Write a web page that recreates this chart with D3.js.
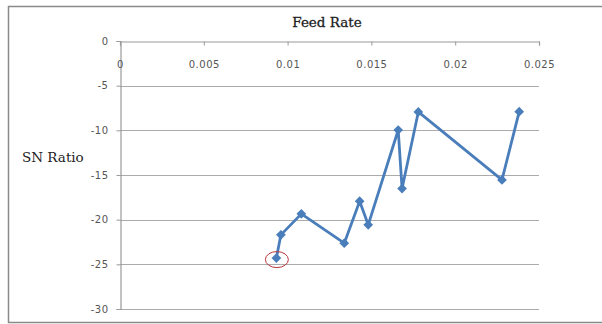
<!DOCTYPE html>
<html>
<head>
<meta charset="utf-8">
<script src="https://cdn.jsdelivr.net/npm/d3@7"></script>
<style>
  html, body { margin: 0; padding: 0; background: #fff; }
  svg { display: block; }
</style>
</head>
<body>
<svg id="chart" width="602" height="324"></svg>
<script>
// Feed rate vs. SN ratio
const feedRate = [0.00933, 0.0096, 0.01082, 0.01338, 0.0143, 0.01481, 0.0166, 0.01683, 0.0178, 0.02279, 0.02382];
const snRatio  = [-24.3, -21.7, -19.35, -22.63, -17.93, -20.58, -9.96, -16.52, -7.94, -15.55, -7.91];
const xTicks = [0, 0.005, 0.01, 0.015, 0.02, 0.025];
const xTickLabels = ["0", "0.005", "0.01", "0.015", "0.02", "0.025"];
const yTicks = [0, -5, -10, -15, -20, -25, -30];
const yTickLabels = ["0", "-5", "-10", "-15", "-20", "-25", "-30"];
const highlightIndex = 0;

const svg = d3.select("#chart");

// outer frame
svg.append("rect")
  .attr("x", 8.5).attr("y", 6.5)
  .attr("width", 620).attr("height", 316)
  .attr("fill", "#fff")
  .attr("stroke", "#8a8a8a").attr("stroke-width", 1.5);

const x = d3.scaleLinear().domain([0, 0.025]).range([120, 539]);
const y = d3.scaleLinear().domain([-30, 0]).range([309, 41]);

// horizontal gridlines
svg.append("g")
  .selectAll("line")
  .data(yTicks.filter(v => v !== 0))
  .join("line")
  .attr("x1", x(0)).attr("x2", x(0.025))
  .attr("y1", d => Math.round(y(d)) + 0.5).attr("y2", d => Math.round(y(d)) + 0.5)
  .attr("stroke", "#ababab").attr("stroke-width", 1.2);

// y axis (left)
const yAxis = svg.append("g")
  .attr("transform", `translate(${x(0) + 0.5},0)`)
  .call(d3.axisLeft(y).tickValues(yTicks).tickSize(4).tickPadding(8)
    .tickFormat((d, i) => yTickLabels[i]));
yAxis.select(".domain").attr("stroke", "#9a9a9a").attr("stroke-width", 1.2);
yAxis.selectAll(".tick line").attr("stroke", "#9a9a9a");
yAxis.selectAll(".tick text")
  .attr("font-family", "DejaVu Sans").attr("font-size", 10)
  .attr("letter-spacing", 0.5)
  .attr("fill", "#555");

// x axis crossing at y = 0 (top), labels below
const xAxis = svg.append("g")
  .attr("transform", `translate(0,${Math.round(y(0)) + 0.5})`)
  .call(d3.axisBottom(x).tickValues(xTicks).tickSize(4).tickPadding(15)
    .tickFormat((d, i) => xTickLabels[i]));
xAxis.select(".domain").attr("stroke", "#9a9a9a").attr("stroke-width", 1.2);
xAxis.selectAll(".tick line").attr("stroke", "#9a9a9a");
xAxis.selectAll(".tick text")
  .attr("font-family", "DejaVu Sans").attr("font-size", 10)
  .attr("letter-spacing", 0.5)
  .attr("fill", "#555");

// titles
svg.append("text")
  .attr("x", 327).attr("y", 27)
  .attr("text-anchor", "middle")
  .attr("font-family", "DejaVu Serif").attr("font-size", 13.5)
  .attr("fill", "#222").attr("stroke", "#222").attr("stroke-width", 0.3)
  .text("Feed Rate");

svg.append("text")
  .attr("x", 22).attr("y", 162)
  .attr("font-family", "DejaVu Serif").attr("font-size", 13.5)
  .attr("fill", "#222")
  .text("SN Ratio");

// series line
const pts = feedRate.map((f, i) => [f, snRatio[i]]);
svg.append("path")
  .datum(pts)
  .attr("fill", "none")
  .attr("stroke", "#4a7ebb")
  .attr("stroke-width", 2.8)
  .attr("stroke-linejoin", "round")
  .attr("d", d3.line().x(d => x(d[0])).y(d => y(d[1])));

// diamond markers
svg.append("g")
  .selectAll("path")
  .data(pts)
  .join("path")
  .attr("transform", d => `translate(${x(d[0])},${y(d[1])})`)
  .attr("d", d3.symbol().type(d3.symbolDiamond2).size(60))
  .attr("fill", "#4a7ebb");

// highlight ring around the lowest point
svg.append("ellipse")
  .attr("cx", x(feedRate[highlightIndex]) + 0.5)
  .attr("cy", y(snRatio[highlightIndex]) + 1.5)
  .attr("rx", 11.5).attr("ry", 8)
  .attr("fill", "none")
  .attr("stroke", "#b5353a").attr("stroke-width", 1);
</script>
</body>
</html>
